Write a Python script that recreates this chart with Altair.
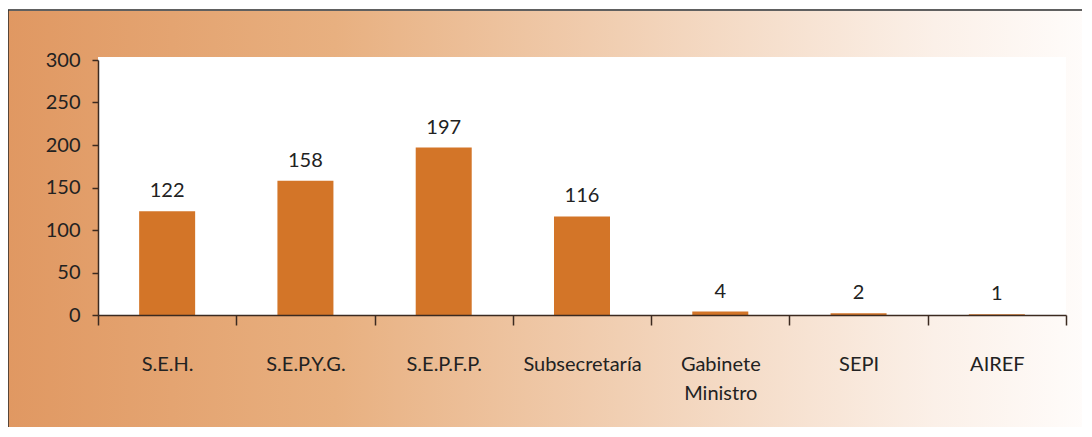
import altair as alt
import pandas as pd

categories = ["S.E.H.", "S.E.P.Y.G.", "S.E.P.F.P.", "Subsecretaría", "Gabinete Ministro", "SEPI", "AIREF"]
values = [122, 158, 197, 116, 4, 2, 1]

df = pd.DataFrame({"cat": categories, "val": values})
one = pd.DataFrame({"a": [0]})

W, H = 968, 255
FONT = "Lato"

grad = alt.LinearGradient(
    gradient="linear",
    stops=[
        alt.GradientStop(color="#E09862", offset=0),
        alt.GradientStop(color="#E8B080", offset=0.3),
        alt.GradientStop(color="#F3D6BE", offset=0.62),
        alt.GradientStop(color="#FBF0E8", offset=0.85),
        alt.GradientStop(color="#FFFDFC", offset=1),
    ],
    x1=0, x2=1, y1=0, y2=0,
)

bg = alt.Chart(one).mark_rect(color=grad, clip=False).encode(
    x=alt.value(-90), x2=alt.value(1000), y=alt.value(-49), y2=alt.value(380)
)
white = alt.Chart(one).mark_rect(color="white", clip=False).encode(
    x=alt.value(0), x2=alt.value(W), y=alt.value(-3), y2=alt.value(H)
)
topline = alt.Chart(one).mark_rule(color="#2b2b2b", strokeWidth=1.5, clip=False).encode(
    x=alt.value(-90), x2=alt.value(1000), y=alt.value(-50)
)
leftline = alt.Chart(one).mark_rule(color="#2b2b2b", strokeWidth=1.5, clip=False).encode(
    x=alt.value(-90), y=alt.value(-50), y2=alt.value(380)
)

xenc = alt.X(
    "cat:N",
    sort=categories,
    scale=alt.Scale(paddingInner=0, paddingOuter=0),
    axis=alt.Axis(
        title=None,
        labelAngle=0,
        tickBand="extent",
        tickSize=10,
        labelPadding=29,
        labelFontSize=20,
        labelFont=FONT,
        labelColor="#222222",
        labelLineHeight=29,
        labelExpr="datum.label == 'Gabinete Ministro' ? ['Gabinete', 'Ministro'] : datum.label",
        domainColor="#3b2a20",
        tickColor="#3b2a20",
        domainWidth=1.5,
        tickWidth=1.5,
        zindex=2,
    ),
)
yenc = alt.Y(
    "val:Q",
    scale=alt.Scale(domain=[0, 300]),
    axis=alt.Axis(
        title=None,
        values=[0, 50, 100, 150, 200, 250, 300],
        grid=False,
        tickSize=6,
        labelPadding=12,
        labelFontSize=20,
        labelFont=FONT,
        labelColor="#222222",
        domainColor="#3b2a20",
        tickColor="#3b2a20",
        domainWidth=1.5,
        tickWidth=1.5,
        zindex=2,
    ),
)

bars = alt.Chart(df).mark_bar(color="#D37528", width=alt.RelativeBandSize(0.405)).encode(x=xenc, y=yenc)
labels = alt.Chart(df).mark_text(
    font=FONT, fontSize=20, color="#222222", baseline="alphabetic", dy=-14
).encode(x=alt.X("cat:N", sort=categories), y="val:Q", text="val:Q")

chart = alt.layer(bg, topline, leftline, white, bars, labels).properties(
    width=W,
    height=H,
    padding={"left": 90, "top": 52, "right": 16, "bottom": 112},
    autosize=alt.AutoSizeParams(type="none"),
).configure_view(stroke=None).configure(background="white")

chart.save("out.html", embed_options={"renderer": "svg", "actions": False})
